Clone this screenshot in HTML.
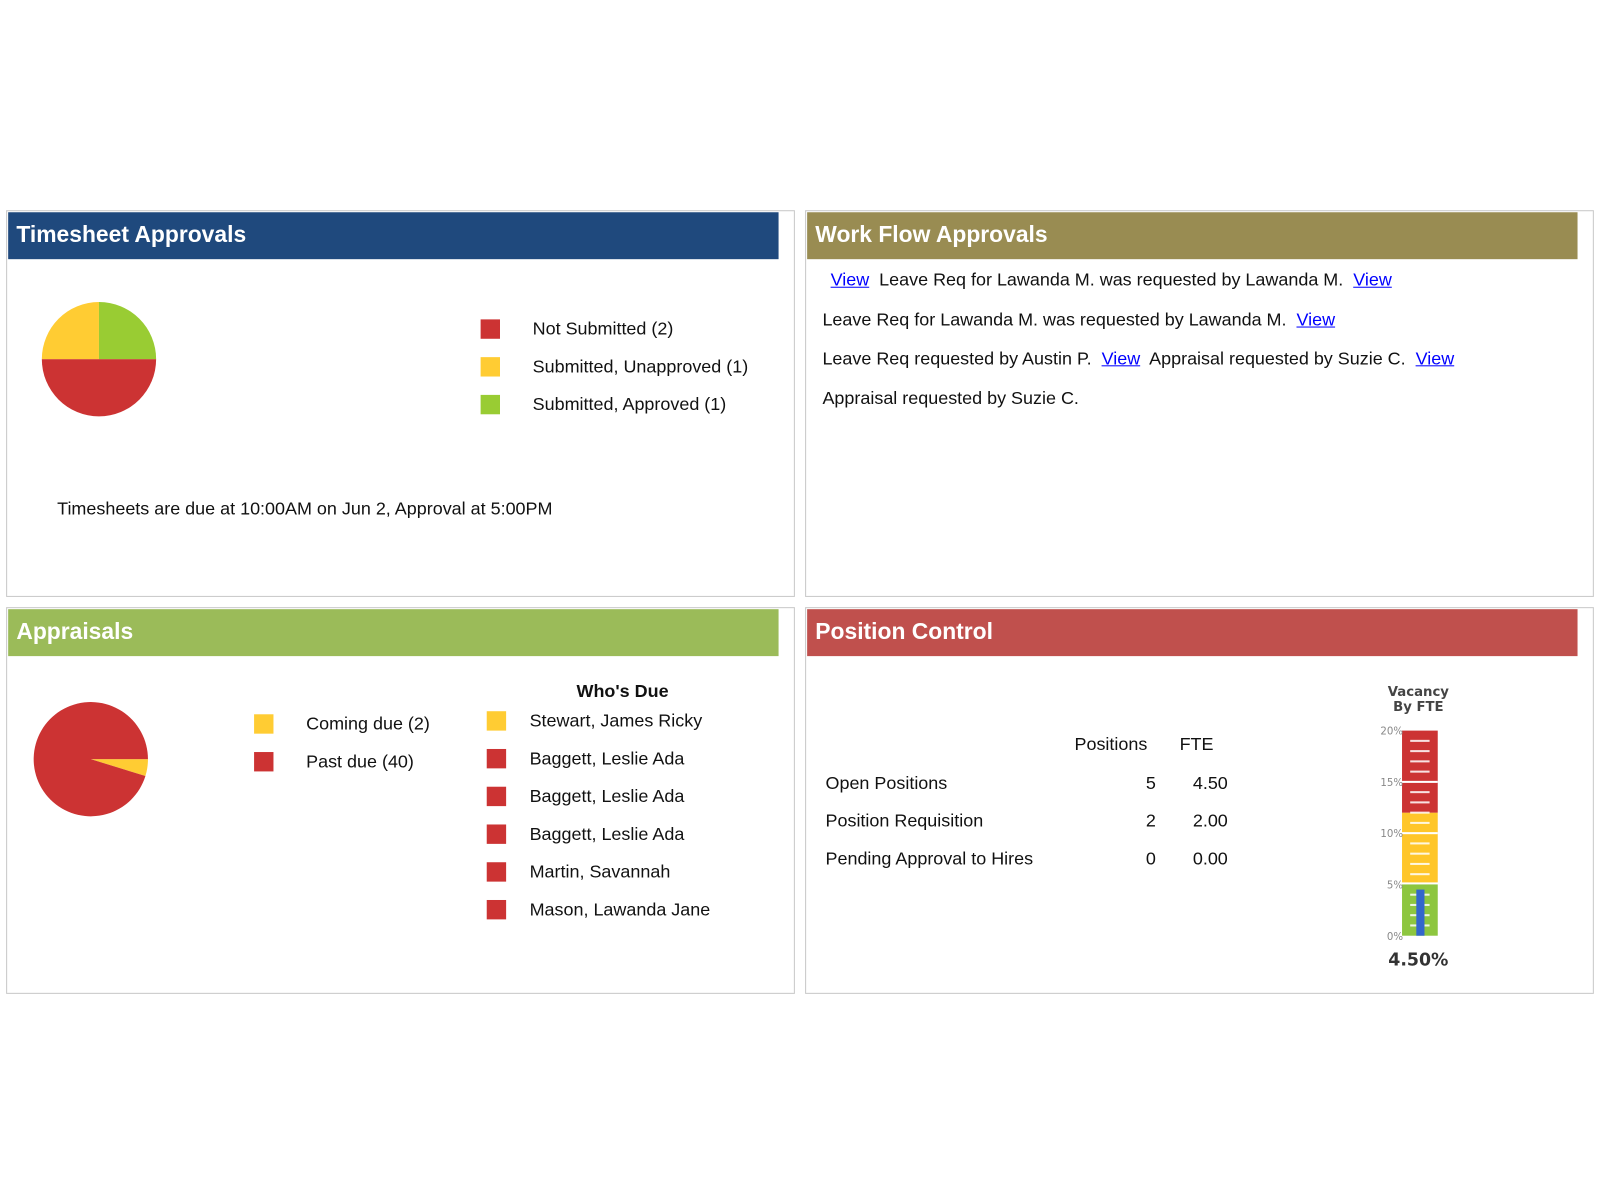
<!DOCTYPE html>
<html><head><meta charset="utf-8"><style>
body{margin:0;width:1600px;height:1200px;background:#fff;font-family:"Liberation Sans",Arial,sans-serif;position:relative;overflow:hidden}
#wrap{position:absolute;left:0;top:0;width:1568px;height:1176px;transform:scale(1.0204);transform-origin:0 0}
.p{position:absolute;border:1px solid #c8c8c8;box-sizing:border-box;width:773px;height:379px}
.h{position:absolute;left:1px;top:1px;width:755px;height:46px;color:#fff;font-weight:bold;font-size:22.4px;line-height:44px;padding-left:8px;box-sizing:border-box}
.t{position:absolute;font-size:17.6px;color:#111;white-space:nowrap}
.sq{position:absolute;width:19px;height:19px}
a{color:#00f;text-decoration:underline}
</style></head><body>
<div id="wrap">
<div class="p" style="left:6px;top:206px">
 <div class="h" style="background:#1f497d">Timesheet Approvals</div>
 <svg id="pie1" style="position:absolute;left:0;top:0" width="200" height="220"></svg>
 <div class="sq" style="left:464px;top:106px;background:#cc3333"></div><div class="t" style="left:515px;top:105px">Not Submitted (2)</div>
 <div class="sq" style="left:464px;top:143px;background:#ffcc33"></div><div class="t" style="left:515px;top:142px">Submitted, Unapproved (1)</div>
 <div class="sq" style="left:464px;top:180px;background:#99cc33"></div><div class="t" style="left:515px;top:179px">Submitted, Approved (1)</div>
 <div class="t" style="left:49px;top:281px">Timesheets are due at 10:00AM on Jun 2, Approval at 5:00PM</div>
</div>
<div class="p" style="left:789px;top:206px">
 <div class="h" style="background:#998c52">Work Flow Approvals</div>
 <div class="t" style="left:24px;top:57px"><a>View</a>&nbsp; Leave Req for Lawanda M. was requested by Lawanda M.&nbsp; <a>View</a></div>
 <div class="t" style="left:16px;top:96px">Leave Req for Lawanda M. was requested by Lawanda M.&nbsp; <a>View</a></div>
 <div class="t" style="left:16px;top:134px">Leave Req requested by Austin P.&nbsp; <a>View</a>&nbsp; Appraisal requested by Suzie C.&nbsp; <a>View</a></div>
 <div class="t" style="left:16px;top:173px">Appraisal requested by Suzie C.</div>
</div>
<div class="p" style="left:6px;top:595px">
 <div class="h" style="background:#9bbb59">Appraisals</div>
 <svg id="pie2" style="position:absolute;left:0;top:0" width="200" height="220"></svg>
 <div class="sq" style="left:242px;top:104px;background:#ffcc33"></div><div class="t" style="left:293px;top:103px">Coming due (2)</div>
 <div class="sq" style="left:242px;top:141px;background:#cc3333"></div><div class="t" style="left:293px;top:140px">Past due (40)</div>
 <div class="t" style="left:558px;top:71px;font-weight:bold">Who's Due</div>
 <div class="sq" style="left:470px;top:101px;background:#ffcc33"></div><div class="t" style="left:512px;top:100px">Stewart, James Ricky</div>
 <div class="sq" style="left:470px;top:138px;background:#cc3333"></div><div class="t" style="left:512px;top:137px">Baggett, Leslie Ada</div>
 <div class="sq" style="left:470px;top:175px;background:#cc3333"></div><div class="t" style="left:512px;top:174px">Baggett, Leslie Ada</div>
 <div class="sq" style="left:470px;top:212px;background:#cc3333"></div><div class="t" style="left:512px;top:211px">Baggett, Leslie Ada</div>
 <div class="sq" style="left:470px;top:249px;background:#cc3333"></div><div class="t" style="left:512px;top:248px">Martin, Savannah</div>
 <div class="sq" style="left:470px;top:286px;background:#cc3333"></div><div class="t" style="left:512px;top:285px">Mason, Lawanda Jane</div>
</div>
<div class="p" style="left:789px;top:595px">
 <div class="h" style="background:#c0504d">Position Control</div>
 <div class="t" style="left:263px;top:123px">Positions</div><div class="t" style="left:366px;top:123px">FTE</div>
 <div class="t" style="left:19px;top:161px">Open Positions</div><div class="t" style="left:333px;top:161px">5</div><div class="t" style="left:379px;top:161px">4.50</div>
 <div class="t" style="left:19px;top:198px">Position Requisition</div><div class="t" style="left:333px;top:198px">2</div><div class="t" style="left:379px;top:198px">2.00</div>
 <div class="t" style="left:19px;top:235px">Pending Approval to Hires</div><div class="t" style="left:333px;top:235px">0</div><div class="t" style="left:379px;top:235px">0.00</div>
 <svg id="gauge" style="position:absolute;left:540px;top:70px" width="120" height="290"></svg>
</div>
</div>
<script>
const tsLabels=["Not Submitted","Submitted, Unapproved","Submitted, Approved"];
const tsValues=[2,1,1];
const apLabels=["Coming due","Past due"];
const apValues=[2,40];
const vacancy=4.5;
const gaugeTicks=[0,5,10,15,20];
const NS="http://www.w3.org/2000/svg";
function pie(svg,vals,cols,cx,cy,r,start){
 const tot=vals.reduce((a,b)=>a+b,0);let a=start;
 vals.forEach((v,i)=>{const b=a+v/tot*2*Math.PI;
  const p=document.createElementNS(NS,"path");
  const x1=cx+r*Math.cos(a),y1=cy+r*Math.sin(a),x2=cx+r*Math.cos(b),y2=cy+r*Math.sin(b);
  p.setAttribute("d",`M${cx},${cy}L${x1},${y1}A${r},${r} 0 ${b-a>Math.PI?1:0} 1 ${x2},${y2}Z`);
  p.setAttribute("fill",cols[i]);
  
  
  svg.appendChild(p);a=b;});
}
pie(document.getElementById("pie1"),tsValues,["#cc3333","#ffcc33","#99cc33"],90,145,56,0);
pie(document.getElementById("pie2"),apValues,["#ffcc33","#cc3333"],82,148,56,0.0);
const g=document.getElementById("gauge");
const y0=251,y20=50,gx=44,gw=35;
const ys=v=>y0+(y20-y0)*v/20;
function rect(x,y,w,h,f,n){const r=document.createElementNS(NS,"rect");r.setAttribute("x",x);r.setAttribute("y",y);r.setAttribute("width",w);r.setAttribute("height",h);r.setAttribute("fill",f);
 
 
 g.appendChild(r);}
function txt(x,y,s,sz,c,w,anc){const t=document.createElementNS(NS,"text");t.setAttribute("x",x);t.setAttribute("y",y);t.setAttribute("font-size",sz);t.setAttribute("fill",c);t.setAttribute("font-weight",w);t.setAttribute("text-anchor",anc);t.setAttribute("font-family","DejaVu Sans, sans-serif");t.textContent=s;
 
 
 g.appendChild(t);}
rect(gx,ys(5),gw,ys(0)-ys(5),"#8dc63f","gauge-green");
rect(gx,ys(12),gw,ys(5)-ys(12)-2,"#ffc629","gauge-yellow");
rect(gx,ys(20),gw,ys(12)-ys(20),"#cc3333","gauge-red");
[10,15].forEach(v=>rect(gx,ys(v)-1,gw,2,"#fff","gauge-sep"));
for(let i=1;i<20;i++){if(i%5===0)continue;rect(gx+8,ys(i)-1,gw-16,2,"rgba(255,255,255,0.85)","gauge-tick");}
rect(gx+14,ys(vacancy),8,ys(0)-ys(vacancy),"#3366cc","gauge-value-bar");
gaugeTicks.forEach(v=>txt(gx+1,ys(v)+4,v+"%",10,"#888","normal","end"));
txt(60,16,"Vacancy",13,"#444","bold","middle");
txt(60,31,"By FTE",13,"#444","bold","middle");
txt(60,280,vacancy.toFixed(2)+"%",17,"#333","bold","middle");
</script>
</body></html>
